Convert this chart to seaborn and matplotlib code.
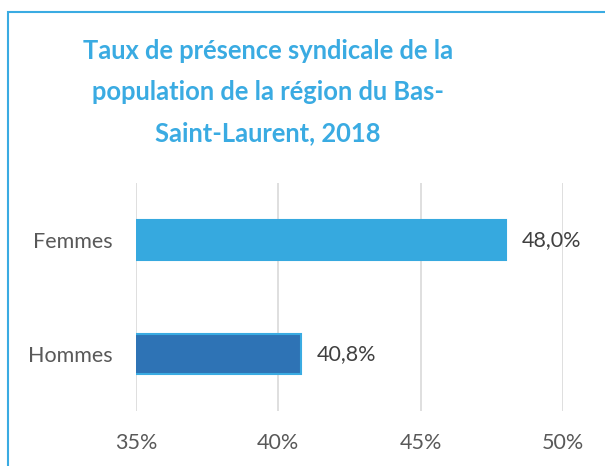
import matplotlib
matplotlib.use("Agg")
import matplotlib.pyplot as plt
import seaborn as sns
import pandas as pd
from matplotlib.patches import Rectangle

categories = ["Femmes", "Hommes"]
values = [48.0, 40.8]
xticks = [35, 40, 45, 50]
colors = ["#36A9DF", "#2E73B5"]
edges = ["#36A9DF", "#3AABE2"]
title = "Taux de présence syndicale de la\npopulation de la région du Bas-\nSaint-Laurent, 2018"

sns.set_theme(style="white")
plt.rcParams['font.family'] = ['Lato', 'DejaVu Sans']

df = pd.DataFrame({"cat": categories, "val": values})

fig = plt.figure(figsize=(6.05, 4.66), dpi=100)
ax = fig.add_axes([136/605, 1-411/466, 427/605, 228/466])
sns.barplot(data=df, x="val", y="cat", hue="cat", palette=colors, orient="h",
            width=0.35, ax=ax, legend=False, saturation=1)
for patch, ec in zip(ax.patches, edges):
    patch.set_edgecolor(ec)
    patch.set_linewidth(1.5)

ax.set_xlim(35, 50)
ax.set_ylim(1.5, -0.5)
ax.set_xticks(xticks)
ax.set_xticklabels([f"{t}%" for t in xticks])
ax.set_xlabel("")
ax.set_ylabel("")
for s in ax.spines.values():
    s.set_visible(False)
ax.grid(axis="x", color="#D9D9D9", linewidth=1.2)
ax.set_axisbelow(True)
ax.tick_params(axis="both", length=0, labelsize=15.5, labelcolor="#595959")
ax.tick_params(axis="x", pad=16)
ax.tick_params(axis="y", pad=17)

for cont in ax.containers:
    ax.bar_label(cont, labels=[f"{v:.1f}%".replace(".", ",") for v in cont.datavalues],
                 padding=11.5, fontsize=15.5, color="#404040")

t = fig.text(268/605, 1-39/466, title, ha="center", va="top", fontsize=18.4, fontweight="bold",
             color="#3AABE2", linespacing=1.85, multialignment="center")
fig.patches.append(Rectangle((8/605, -0.1), 1.2, 1-12/466+0.1, transform=fig.transFigure,
                             fill=False, edgecolor="#3AABE2", linewidth=1.5, figure=fig))

fig.savefig("out.png", dpi=100)
